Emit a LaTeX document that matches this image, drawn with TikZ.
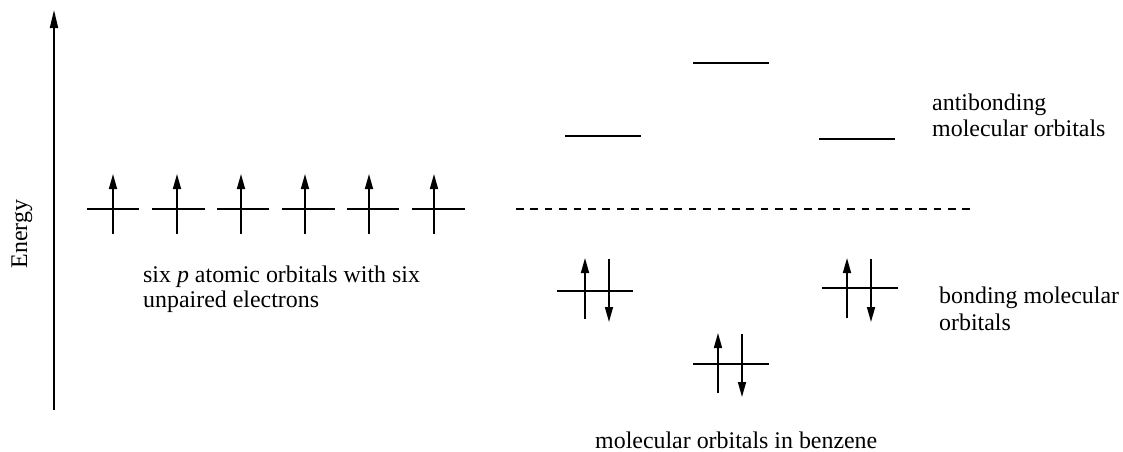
\documentclass[tikz,border=0pt]{standalone}
\usepackage{fontspec}
\setmainfont{Liberation Serif}
\usetikzlibrary{arrows.meta}
\begin{document}
\begin{tikzpicture}[x=1pt,y=-1pt,
  level/.style={line width=2.6pt},
  spin/.style={line width=1.6pt,-{Triangle[length=15pt,width=8pt]}},
  axisline/.style={line width=1.8pt,-{Triangle[length=18pt,width=8pt]}},
  homo/.style={line width=1.8pt,dash pattern=on 7.5pt off 6.9pt},
  lbl/.style={font=\fontsize{23.9}{26}\selectfont,anchor=base west,inner sep=0pt},
]
\useasboundingbox (0,0) rectangle (1123,451);
% energy axis
\coordinate (ax0) at (54,410);
\coordinate (ax1) at (54,10);
\draw[axisline] (ax0) -- (ax1);
\node[lbl,rotate=90,anchor=center] (energy) at (22,234) {Energy};
% six p atomic orbitals
\foreach \l/\r/\a [count=\i] in {87/139/113,152/205/177,217/269/241,282/335/305,347/399/369,412/465/434}{
  \coordinate (p\i l) at (\l,209);
  \coordinate (p\i r) at (\r,209);
  \coordinate (p\i b) at (\a,234);
  \coordinate (p\i t) at (\a,174);
  \draw[level] (p\i l) -- (p\i r);
  \draw[spin] (p\i b) -- (p\i t);
}
\node[lbl] (ptext1) at (143,282) {six \textit{p} atomic orbitals with six};
\node[lbl] (ptext2) at (143,307) {unpaired electrons};
% nonbonding reference line
\coordinate (nb0) at (516,209);
\coordinate (nb1) at (970,209);
\draw[homo] (nb0) -- (nb1);
% antibonding levels
\coordinate (a1l) at (693,63);  \coordinate (a1r) at (769,63);
\coordinate (a2l) at (565,136); \coordinate (a2r) at (641,136);
\coordinate (a3l) at (819,139); \coordinate (a3r) at (895,139);
\draw[level] (a1l) -- (a1r);
\draw[level] (a2l) -- (a2r);
\draw[level] (a3l) -- (a3r);
% bonding levels
\coordinate (b1l) at (557,291); \coordinate (b1r) at (633,291);
\coordinate (b2l) at (822,288); \coordinate (b2r) at (898,288);
\coordinate (b3l) at (693,364); \coordinate (b3r) at (769,364);
\draw[level] (b1l) -- (b1r);
\draw[level] (b2l) -- (b2r);
\draw[level] (b3l) -- (b3r);
% electron pairs
\coordinate (b1ub) at (585,319); \coordinate (b1ut) at (585,258);
\coordinate (b1dt) at (609,259); \coordinate (b1db) at (609,322);
\coordinate (b2ub) at (847,318); \coordinate (b2ut) at (847,258);
\coordinate (b2dt) at (871,259); \coordinate (b2db) at (871,322);
\coordinate (b3ub) at (718,393); \coordinate (b3ut) at (718,333);
\coordinate (b3dt) at (742,334); \coordinate (b3db) at (742,397);
\draw[spin] (b1ub) -- (b1ut);
\draw[spin] (b1dt) -- (b1db);
\draw[spin] (b2ub) -- (b2ut);
\draw[spin] (b2dt) -- (b2db);
\draw[spin] (b3ub) -- (b3ut);
\draw[spin] (b3dt) -- (b3db);
% labels
\node[lbl] (anti1) at (932,110) {antibonding};
\node[lbl] (anti2) at (932,136) {molecular orbitals};
\node[lbl] (bond1) at (939,303) {bonding molecular};
\node[lbl] (bond2) at (939,330) {orbitals};
\node[lbl] (benz) at (595,448) {molecular orbitals in benzene};
\end{tikzpicture}
\end{document}
